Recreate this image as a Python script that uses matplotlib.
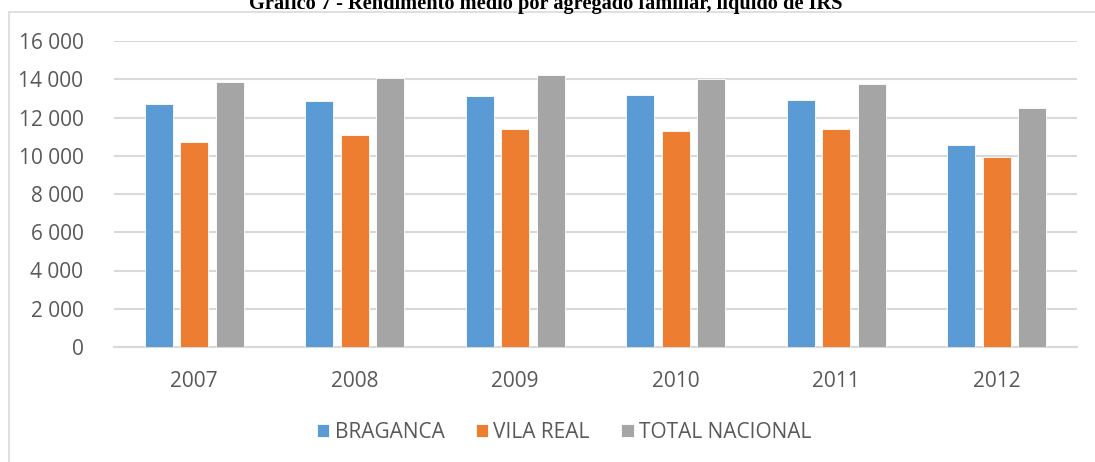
import matplotlib.pyplot as plt
import numpy as np
from matplotlib.patches import Rectangle
from matplotlib.ticker import FuncFormatter

# data
years = ['2007', '2008', '2009', '2010', '2011', '2012']
braganca = [12720, 12880, 13140, 13160, 12930, 10580]
vila_real = [10740, 11100, 11400, 11280, 11420, 9950]
total_nacional = [13860, 14080, 14200, 14010, 13770, 12510]
series_names = ['BRAGANCA', 'VILA REAL', 'TOTAL NACIONAL']
colors = ['#5B9BD5', '#ED7D31', '#A5A5A5']

plt.rcParams['font.family'] = ['Open Sans', 'DejaVu Sans']

fig = plt.figure(figsize=(10.95, 4.62), dpi=100)
ax = fig.add_axes([114 / 1095, 1 - 347 / 462, (1077 - 114) / 1095, (347 - 41) / 462])

x = np.arange(len(years))
width = 0.174
step = 0.221
for k, (vals, name) in enumerate(zip([braganca, vila_real, total_nacional], series_names)):
    ax.bar(x + (k - 1) * step, vals, width, color=colors[k], label=name,
           edgecolor='white', linewidth=0.6, zorder=3)

ax.set_xlim(-0.5, len(years) - 0.5)
ax.set_ylim(0, 16000)
ax.set_yticks(range(0, 16001, 2000))
ax.yaxis.set_major_formatter(FuncFormatter(lambda v, p: f"{int(v):,}".replace(',', ' ')))
ax.set_xticks(x)
ax.set_xticklabels(years)

ax.grid(axis='y', color='#D9D9D9', linewidth=1.5, zorder=0)
for s in ['top', 'right', 'left']:
    ax.spines[s].set_visible(False)
ax.spines['bottom'].set_color('#D9D9D9')
ax.spines['bottom'].set_linewidth(1.5)
ax.tick_params(axis='both', length=0, labelsize=15, colors='#595959')
ax.tick_params(axis='y', pad=22)
ax.tick_params(axis='x', pad=17)

leg = fig.legend(loc='center', bbox_to_anchor=(564 / 1095, 1 - 432 / 462), ncol=3,
                 frameon=False, fontsize=15, handlelength=0.6, handleheight=0.6,
                 handletextpad=0.25, columnspacing=1.5)
for t in leg.get_texts():
    t.set_color('#595959')

# chart area border
fig.patches.append(Rectangle((9 / 1095, -0.1), 1.2, 1 - 12 / 462 + 0.1,
                             transform=fig.transFigure, fill=False,
                             edgecolor='#D9D9D9', linewidth=1.2))

# title, cut off at the top edge as in the source
fig.text(546 / 1095, 1 - 8.5 / 462, 'Gráfico 7 - Rendimento médio por agregado familiar, líquido de IRS',
         ha='center', va='baseline', fontsize=14.7, fontweight='bold',
         family=['Liberation Serif', 'DejaVu Serif'], color='black')

fig.savefig('out.png', dpi=100)
